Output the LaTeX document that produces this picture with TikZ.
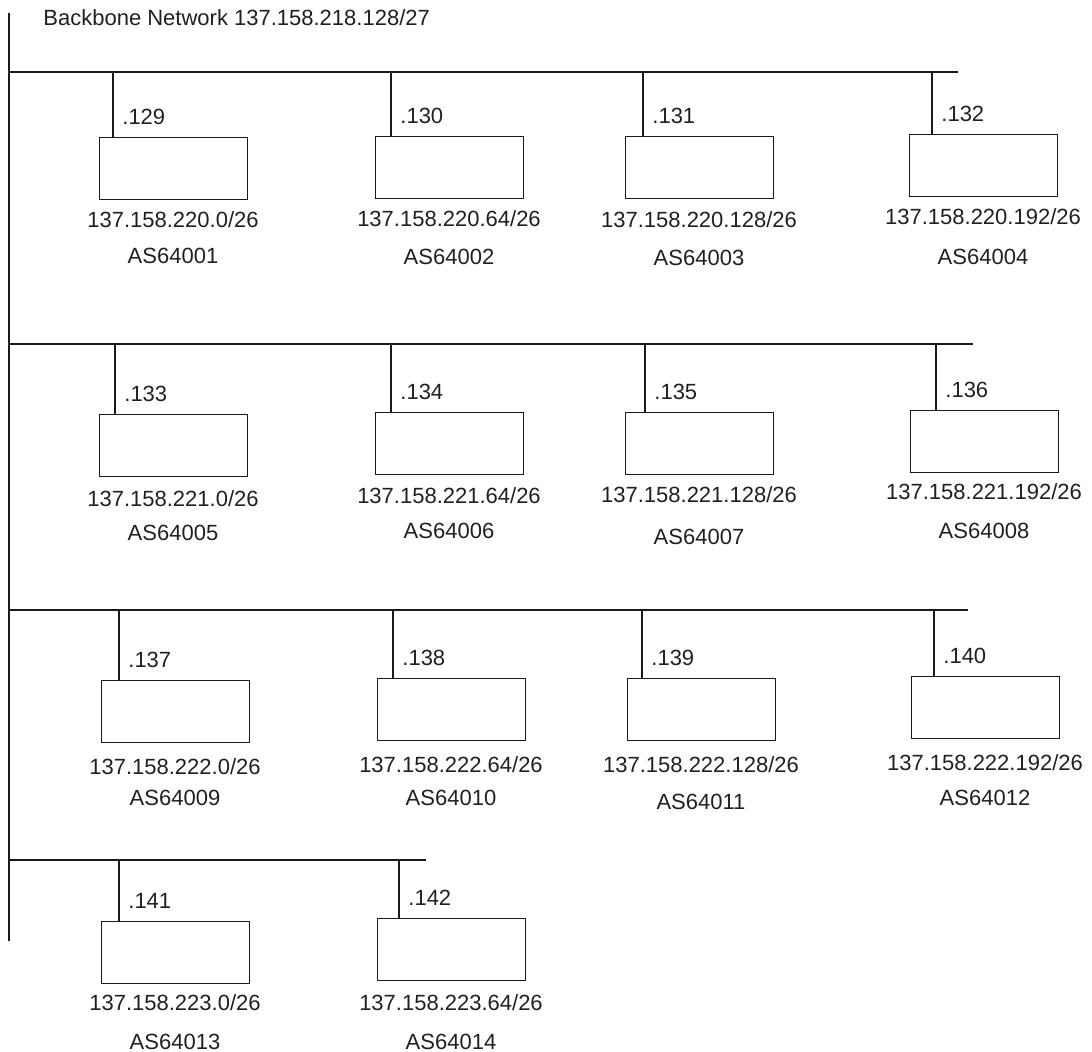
\documentclass[tikz,border=0pt]{standalone}
\usepackage{fontspec}
\setmainfont{Liberation Sans}
\usepackage{tikz}
\usetikzlibrary{positioning}
\definecolor{cLine}{HTML}{1A1A1A}
\definecolor{cText}{HTML}{202020}
\tikzset{
  bus/.style={draw=cLine,line width=0.7pt},
  drop/.style={draw=cLine,line width=0.7pt},
  asbox/.style={draw=cLine,line width=0.7pt,fill=white,minimum width=74pt,minimum height=31pt,inner sep=0pt},
  txt/.style={font=\fontsize{11}{13}\selectfont,text=cText,inner sep=0pt},
}

\begin{document}
\begin{tikzpicture}[x=0.5pt,y=-0.5pt]
  \useasboundingbox (0,0) rectangle (1092,1052);
  % backbone trunk and title
  \coordinate (trunkN) at (9,13);
  \coordinate (trunkS) at (9,941);
  \draw[bus] (trunkN) -- (trunkS);
  \node[txt,anchor=west] (title) at (43,18) {Backbone Network 137.158.218.128/27};
  % one bus per row of routers
  \foreach \r/\y/\e in {1/72/958, 2/344/973, 3/610/968, 4/860/426}{
    \coordinate (busW\r) at (9,\y);
    \coordinate (busE\r) at (\e,\y);
    \draw[bus] (busW\r) -- (busE\r);
  }
  % routers: box corner, drop x, bus y, host, subnet, AS and label rows
  \foreach \i/\bx/\by/\dx/\bus/\hst/\nw/\asn/\ny/\ay in {
      1/99/137/113/72/.129/137.158.220.0\slash26/AS64001/220/256,
      2/375/136/391/72/.130/137.158.220.64\slash26/AS64002/219/257,
      3/625/136/643/72/.131/137.158.220.128\slash26/AS64003/220/258,
      4/909/134/932/72/.132/137.158.220.192\slash26/AS64004/217/257,
      5/99/414/115/344/.133/137.158.221.0\slash26/AS64005/499/533,
      6/375/412/391/344/.134/137.158.221.64\slash26/AS64006/496/531,
      7/625/412/645/344/.135/137.158.221.128\slash26/AS64007/495/537,
      8/910/410/936/344/.136/137.158.221.192\slash26/AS64008/492/531,
      9/101/680/119/610/.137/137.158.222.0\slash26/AS64009/767/798,
      10/377/678/393/610/.138/137.158.222.64\slash26/AS64010/765/798,
      11/627/678/642/610/.139/137.158.222.128\slash26/AS64011/765/802,
      12/911/676/934/610/.140/137.158.222.192\slash26/AS64012/763/798,
      13/101/921/119/860/.141/137.158.223.0\slash26/AS64013/1003/1042,
      14/377/918/399/860/.142/137.158.223.64\slash26/AS64014/1003/1042}{
    \node[asbox,anchor=north west] (r\i) at (\bx,\by) {};
    \coordinate (t\i) at (\dx,\bus);
    \draw[drop] (t\i) -- (t\i |- r\i.north);
    \node[txt,anchor=west] (h\i) at (\dx+9,\by-20) {\hst};
    \node[txt] (n\i) at (\bx+74,\ny) {\nw};
    \node[txt] (a\i) at (\bx+74,\ay) {\asn};
  }
\end{tikzpicture}
\end{document}
